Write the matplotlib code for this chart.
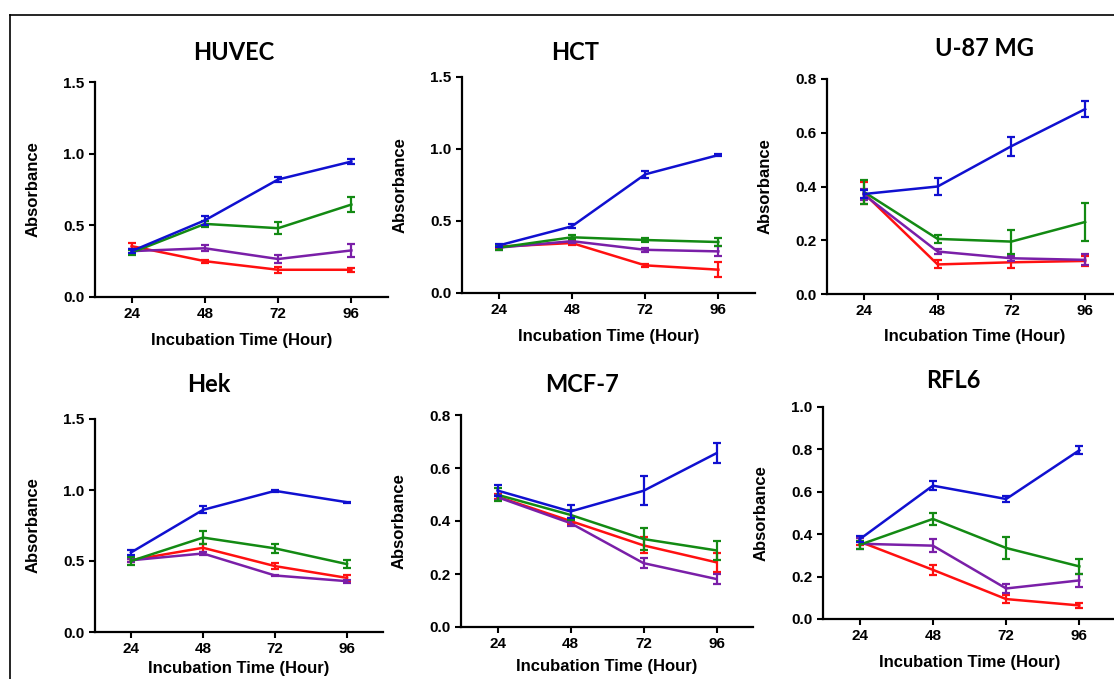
import matplotlib
matplotlib.use('Agg')
import matplotlib.pyplot as plt
from matplotlib.lines import Line2D

hours = [24, 48, 72, 96]
cell_lines = ['HUVEC', 'HCT', 'U-87 MG', 'Hek', 'MCF-7', 'RFL6']
series_colors = ['#1010d0', '#138a13', '#7a1fa8', '#ff1010']   # blue, green, purple, red

# means per panel, rows = blue, green, purple, red
huvec_mean = [[0.32, 0.535, 0.82, 0.945], [0.31, 0.51, 0.48, 0.645], [0.32, 0.34, 0.265, 0.325], [0.355, 0.25, 0.19, 0.19]]
huvec_err = [[0.015, 0.03, 0.02, 0.015], [0.02, 0.02, 0.04, 0.05], [0.015, 0.02, 0.03, 0.045], [0.02, 0.01, 0.02, 0.015]]
hct_mean = [[0.33, 0.463, 0.824, 0.958], [0.315, 0.387, 0.368, 0.354], [0.315, 0.36, 0.30, 0.289], [0.322, 0.347, 0.192, 0.162]]
hct_err = [[0.01, 0.015, 0.025, 0.01], [0.015, 0.015, 0.015, 0.03], [0.015, 0.015, 0.015, 0.035], [0.01, 0.015, 0.01, 0.05]]
u87_mean = [[0.372, 0.40, 0.55, 0.688], [0.38, 0.205, 0.195, 0.268], [0.37, 0.158, 0.133, 0.127], [0.375, 0.11, 0.118, 0.123]]
u87_err = [[0.015, 0.03, 0.035, 0.03], [0.045, 0.015, 0.045, 0.07], [0.02, 0.01, 0.01, 0.02], [0.04, 0.015, 0.02, 0.02]]
hek_mean = [[0.56, 0.86, 0.994, 0.914], [0.50, 0.665, 0.589, 0.478], [0.505, 0.553, 0.398, 0.358], [0.506, 0.593, 0.464, 0.381]]
hek_err = [[0.02, 0.025, 0.005, 0.005], [0.025, 0.045, 0.03, 0.03], [0.01, 0.01, 0.005, 0.01], [0.01, 0.03, 0.02, 0.02]]
mcf7_mean = [[0.515, 0.436, 0.514, 0.656], [0.499, 0.423, 0.332, 0.289], [0.49, 0.392, 0.241, 0.181], [0.492, 0.40, 0.308, 0.244]]
mcf7_err = [[0.02, 0.025, 0.055, 0.037], [0.025, 0.02, 0.04, 0.035], [0.01, 0.01, 0.02, 0.02], [0.01, 0.01, 0.03, 0.035]]
rfl6_mean = [[0.376, 0.629, 0.566, 0.796], [0.35, 0.472, 0.335, 0.248], [0.355, 0.346, 0.144, 0.182], [0.365, 0.232, 0.094, 0.064]]
rfl6_err = [[0.015, 0.02, 0.015, 0.02], [0.02, 0.03, 0.05, 0.035], [0.025, 0.03, 0.02, 0.03], [0.015, 0.025, 0.02, 0.01]]

means = [huvec_mean, hct_mean, u87_mean, hek_mean, mcf7_mean, rfl6_mean]
errs = [huvec_err, hct_err, u87_err, hek_err, mcf7_err, rfl6_err]
y_max = [1.5, 1.5, 0.8, 1.5, 0.8, 1.0]
y_step = [0.5, 0.5, 0.2, 0.5, 0.2, 0.2]

W, H = 1114, 679
# layout in pixels: left, top, bottom, width, xlabel offset below axis
boxes = [(95, 82, 297, 293, 43), (462, 77, 293, 293, 43), (827, 79, 294, 295, 43),
         (95, 419, 632, 288, 36), (461, 415, 627, 292, 39), (823, 407, 619, 293, 44)]
title_xy = [(234, 52), (575, 52), (984, 49), (209, 385), (582, 384), (953, 380)]

fig = plt.figure(figsize=(W / 100, H / 100), dpi=100)
fig.patch.set_facecolor('white')

tick_font = dict(family=['Liberation Sans', 'DejaVu Sans'], weight='bold')

for i in range(6):
    l, t, b, w, xl = boxes[i]
    ax = fig.add_axes([l / W, 1 - b / H, w / W, (b - t) / H])
    for k in [3, 2, 1, 0]:
        ax.errorbar(hours, means[i][k], yerr=errs[i][k], color=series_colors[k],
                    lw=1.8, elinewidth=1.6, capsize=3, capthick=1.6, zorder=3 + (3 - k))
    ax.set_xlim(12, 108)
    ax.set_ylim(0, y_max[i])
    n = int(round(y_max[i] / y_step[i]))
    yt = [round(j * y_step[i], 2) for j in range(n + 1)]
    ax.set_yticks(yt)
    ax.set_yticklabels(['%.1f' % v for v in yt], fontsize=11, **tick_font)
    ax.set_xticks(hours)
    ax.set_xticklabels([str(h) for h in hours], fontsize=11, **tick_font)
    ax.spines['top'].set_visible(False)
    ax.spines['right'].set_visible(False)
    ax.spines['left'].set_linewidth(1.6)
    ax.spines['bottom'].set_linewidth(1.6)
    ax.tick_params(direction='out', length=4.5, width=1.5, pad=3)
    ax.set_xlabel('Incubation Time (Hour)', fontsize=12, va='center', **tick_font)
    ax.xaxis.set_label_coords(0.5, -xl / (b - t))
    ax.set_ylabel('Absorbance', fontsize=12, va='center', **tick_font)
    ax.yaxis.set_label_coords(-62 / w, 0.5)
    tx, ty = title_xy[i]
    fig.text(tx / W, 1 - ty / H, cell_lines[i], fontsize=17, fontweight='bold',
             family=['Lato', 'DejaVu Sans'], ha='center', va='center')

# outer frame lines
fig.add_artist(Line2D([10 / W, 1], [1 - 15 / H, 1 - 15 / H], color='black', lw=1.2))
fig.add_artist(Line2D([10 / W, 10 / W], [0, 1 - 15 / H], color='black', lw=1.2))

fig.savefig('out.png', dpi=100)
